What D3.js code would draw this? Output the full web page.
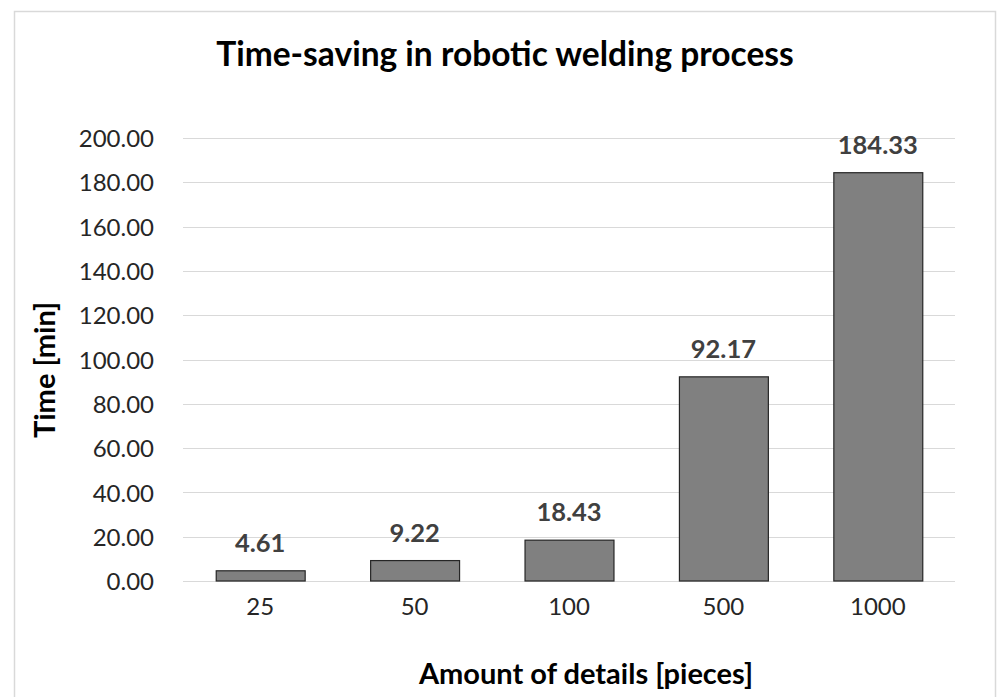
<!DOCTYPE html>
<html>
<head>
<meta charset="utf-8">
<script src="https://cdn.jsdelivr.net/npm/d3@7"></script>
<style>
  html, body { margin: 0; padding: 0; background: #fff; }
  svg { display: block; }
</style>
</head>
<body>
<svg id="chart" width="997" height="697"></svg>
<script>
// Welding time saved per batch size
const categories = ["25", "50", "100", "500", "1000"];
const timeSaved = [4.61, 9.22, 18.43, 92.17, 184.33];
const yTicks = [0, 20, 40, 60, 80, 100, 120, 140, 160, 180, 200];

const chartTitle = "Time-saving in robotic welding process";
const xTitle = "Amount of details [pieces]";
const yTitle = "Time [min]";

const FONT = "Lato, 'Open Sans', sans-serif";
const svg = d3.select("#chart");

// outer chart frame
svg.append("rect")
  .attr("x", 14.5).attr("y", 11.5)
  .attr("width", 981).attr("height", 700)
  .attr("fill", "#fff")
  .attr("stroke", "#d9d9d9").attr("stroke-width", 1.5);

const plot = { left: 183, right: 955, top: 138, bottom: 581 };

const x = d3.scaleBand()
  .domain(categories)
  .range([plot.left, plot.right])
  .paddingInner(0.424)
  .paddingOuter(0.212);

const y = d3.scaleLinear()
  .domain([0, 200])
  .range([plot.bottom, plot.top]);

// horizontal gridlines
svg.append("g")
  .selectAll("line")
  .data(yTicks)
  .join("line")
  .attr("x1", plot.left).attr("x2", plot.right)
  .attr("y1", d => Math.round(y(d)) + 0.5)
  .attr("y2", d => Math.round(y(d)) + 0.5)
  .attr("stroke", "#d9d9d9").attr("stroke-width", 1);

// y axis tick labels
const yAxis = d3.axisLeft(y)
  .tickValues(yTicks)
  .tickFormat(d3.format(".2f"))
  .tickSize(0)
  .tickPadding(29);
const gy = svg.append("g")
  .attr("transform", `translate(${plot.left},0)`)
  .call(yAxis);
gy.select(".domain").remove();
gy.selectAll("text")
  .attr("font-family", FONT)
  .attr("font-size", 24)
  .attr("fill", "#262626")
  .attr("dy", "0.36em");

// bars
svg.append("g")
  .selectAll("rect")
  .data(categories)
  .join("rect")
  .attr("x", d => x(d) + 0.5)
  .attr("y", (d, i) => y(timeSaved[i]))
  .attr("width", x.bandwidth())
  .attr("height", (d, i) => y(0) - y(timeSaved[i]))
  .attr("fill", "#808080")
  .attr("stroke", "#262626")
  .attr("stroke-width", 1.2);

// value labels above bars
svg.append("g")
  .selectAll("text")
  .data(categories)
  .join("text")
  .attr("x", d => x(d) + x.bandwidth() / 2)
  .attr("y", (d, i) => y(timeSaved[i]) - 19)
  .attr("text-anchor", "middle")
  .attr("font-family", FONT)
  .attr("font-weight", "bold")
  .attr("font-size", 25.5)
  .attr("fill", "#404040")
  .text((d, i) => d3.format(".2f")(timeSaved[i]));

// x axis category labels
const xAxis = d3.axisBottom(x).tickSize(0).tickPadding(17);
const gx = svg.append("g")
  .attr("transform", `translate(0,${plot.bottom})`)
  .call(xAxis);
gx.select(".domain").remove();
gx.selectAll("text")
  .attr("font-family", FONT)
  .attr("font-size", 24)
  .attr("fill", "#262626")
  .attr("dy", "0.71em");

// chart title
svg.append("text")
  .attr("x", 505).attr("y", 66)
  .attr("text-anchor", "middle")
  .attr("font-family", FONT)
  .attr("font-weight", "bold")
  .attr("font-size", 33.5)
  .attr("fill", "#000")
  .text(chartTitle);

// x axis title
svg.append("text")
  .attr("x", 586).attr("y", 684)
  .attr("text-anchor", "middle")
  .attr("font-family", FONT)
  .attr("font-weight", "bold")
  .attr("font-size", 29)
  .attr("fill", "#000")
  .text(xTitle);

// y axis title
svg.append("text")
  .attr("transform", "translate(55,370) rotate(-90)")
  .attr("text-anchor", "middle")
  .attr("font-family", FONT)
  .attr("font-weight", "bold")
  .attr("font-size", 29)
  .attr("fill", "#000")
  .text(yTitle);
</script>
</body>
</html>
